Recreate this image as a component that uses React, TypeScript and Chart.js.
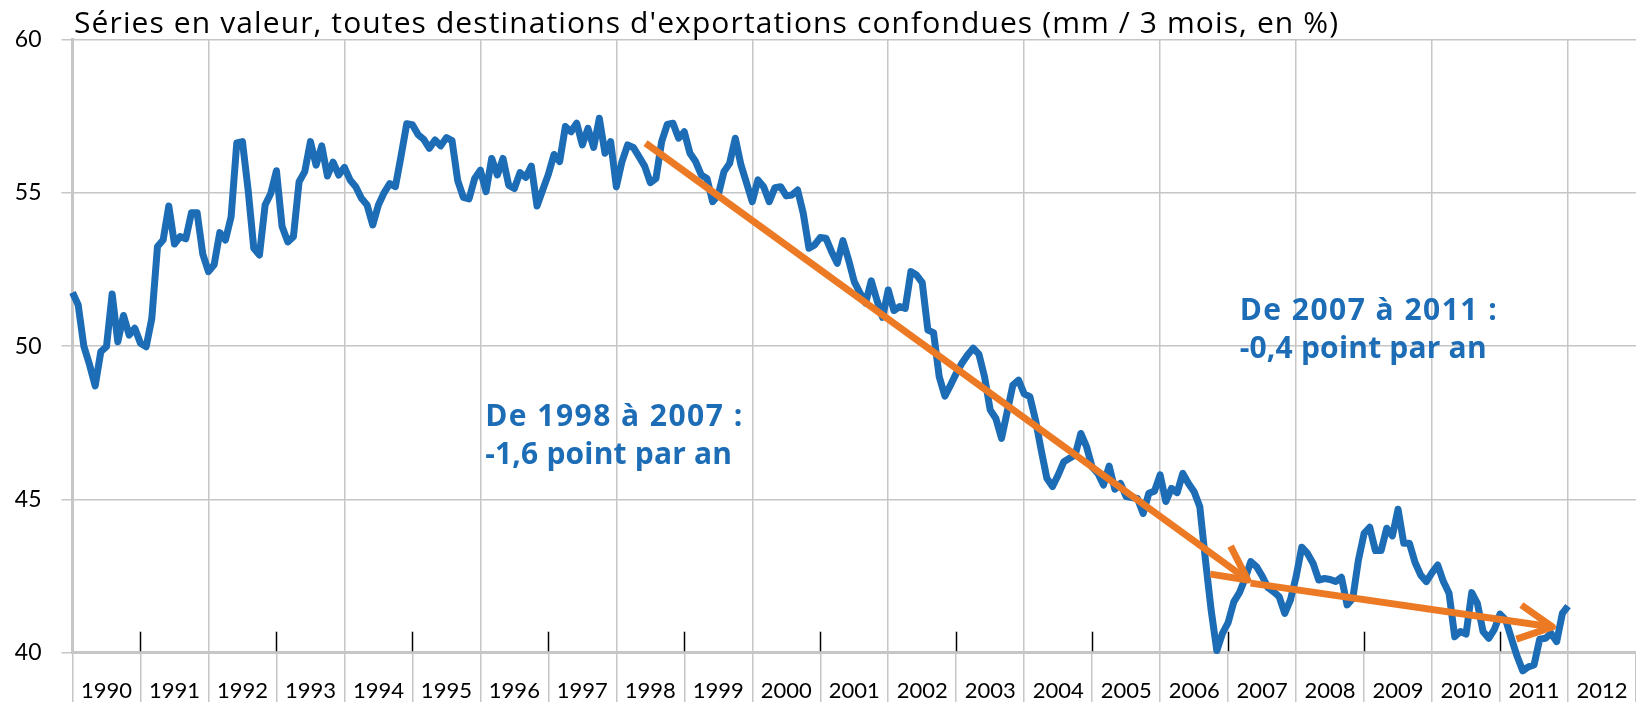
import React, { useEffect, useRef } from 'react';
import { Chart, registerables } from 'chart.js';

Chart.register(...registerables);

const TITLE = "Séries en valeur, toutes destinations d'exportations confondues (mm / 3 mois, en %)";
const START_YEAR = 1990;
const END_YEAR = 2013;
const YEAR_LABELS = ['1990', '1991', '1992', '1993', '1994', '1995', '1996', '1997', '1998', '1999', '2000', '2001', '2002', '2003', '2004', '2005', '2006', '2007', '2008', '2009', '2010', '2011', '2012'];
const Y_MIN = 40;
const Y_MAX = 60;
const Y_STEP = 5;

// Monthly values, Jan 1990 - Dec 1996
const SHARE_1990_1996 = [
  51.75, 51.35, 50.0, 49.4, 48.7, 49.82, 49.98, 51.7, 50.14, 51.0, 50.36, 50.58,
  50.09, 49.98, 50.9, 53.25, 53.46, 54.57, 53.33, 53.57, 53.5, 54.35, 54.35, 53.0,
  52.43, 52.65, 53.7, 53.46, 54.22, 56.63, 56.67, 55.1, 53.19, 52.97, 54.6, 54.98,
  55.72, 53.9, 53.4, 53.57, 55.36, 55.69, 56.67, 55.9, 56.53, 55.55, 56.0, 55.58,
  55.83, 55.42, 55.2, 54.82, 54.6, 53.95, 54.6, 55.0, 55.3, 55.2, 56.2, 57.25,
  57.22, 56.9, 56.74, 56.45, 56.72, 56.53, 56.8, 56.7, 55.4, 54.85, 54.8, 55.47,
  55.74, 55.04, 56.12, 55.58, 56.12, 55.25, 55.14, 55.66, 55.5, 55.87, 54.57, 55.09,
];
// Jan 1997 - Dec 2003
const SHARE_1997_2003 = [
  55.6, 56.25, 56.02, 57.16, 56.99, 57.27, 56.56, 57.1, 56.48, 57.43, 56.29, 56.67,
  55.2, 56.02, 56.56, 56.48, 56.18, 55.87, 55.33, 55.47, 56.67, 57.23, 57.27, 56.78,
  56.99, 56.29, 56.02, 55.58, 55.47, 54.71, 54.93, 55.69, 55.96, 56.78, 55.91, 55.31,
  54.71, 55.42, 55.2, 54.71, 55.17, 55.2, 54.9, 54.93, 55.09, 54.33, 53.19, 53.3,
  53.54, 53.52, 53.08, 52.7, 53.44, 52.81, 52.1, 51.74, 51.4, 52.13, 51.5, 50.94,
  51.83, 51.16, 51.29, 51.23, 52.43, 52.32, 52.07, 50.52, 50.44, 49.0, 48.37, 48.73,
  49.11, 49.44, 49.71, 49.93, 49.74, 49.0, 47.92, 47.64, 46.99, 47.86, 48.73, 48.89,
];
// Jan 2004 - Jan 2012
const SHARE_2004_2011 = [
  48.44, 48.35, 47.59, 46.61, 45.69, 45.42, 45.8, 46.23, 46.34, 46.45, 47.15, 46.72,
  46.05, 45.85, 45.47, 46.09, 45.33, 45.52, 45.09, 45.06, 45.03, 44.54, 45.2, 45.27,
  45.8, 44.93, 45.36, 45.22, 45.85, 45.52, 45.25, 44.76, 43.02, 41.39, 40.07, 40.63,
  40.98, 41.66, 41.96, 42.42, 42.97, 42.81, 42.5, 42.13, 41.99, 41.83, 41.28, 41.72,
  42.48, 43.44, 43.24, 42.91, 42.37, 42.42, 42.39, 42.32, 42.46, 41.56, 41.77, 43.02,
  43.89, 44.09, 43.33, 43.33, 44.06, 43.81, 44.68, 43.57, 43.57, 42.94, 42.53, 42.32,
  42.61, 42.86, 42.32, 41.94, 40.52, 40.69, 40.61, 41.96, 41.61, 40.69, 40.47, 40.76,
  41.26, 41.07, 40.47, 39.89, 39.41, 39.54, 39.6, 40.44, 40.47, 40.63, 40.36, 41.28,
  41.52,
];

// Trend arrows (year, value)
const TREND_1998_2007_X = [1998.43, 2007.29];
const TREND_1998_2007_Y = [56.62, 42.37];
const TREND_2007_2011_X = [2007.33, 2011.77];
const TREND_2007_2011_Y = [42.27, 40.84];

const NOTE_1 = ['De 1998 à 2007 :', '-1,6 point par an'];
const NOTE_2 = ['De 2007 à 2011 :', '-0,4 point par an'];
const NOTE_1_AT = { x: 1996.07, y: 47.39 };
const NOTE_2_AT = { x: 2007.17, y: 50.85 };

const BLUE = '#1c6cb6';
const ORANGE = '#ec7a25';
const GRID = '#c6c6c6';
const AXIS_FONT = 'Lato, "Noto Sans", sans-serif';
const TEXT_FONT = '"Open Sans", "Noto Sans", sans-serif';

// draw text adjusted (via letter spacing) to a target width
function fitText(ctx: any, text: string, x: number, y: number, width: number) {
  const c = ctx as any;
  c.letterSpacing = '0px';
  const w = ctx.measureText(text).width;
  const sp = (width - w) / Math.max(1, text.length - 1);
  c.letterSpacing = `${sp.toFixed(2)}px`;
  ctx.fillText(text, x, y);
  c.letterSpacing = '0px';
}

const overlay = {
  id: 'overlay',
  beforeDatasetsDraw(chart: any) {
    const { ctx, chartArea, scales } = chart;
    ctx.save();
    ctx.strokeStyle = '#000';
    ctx.lineWidth = 1.5;
    for (let yr = START_YEAR + 1; yr < END_YEAR; yr += 2) {
      const px = Math.round(scales.x.getPixelForValue(yr)) + 0.5;
      ctx.beginPath();
      ctx.moveTo(px, chartArea.bottom - 1.5);
      ctx.lineTo(px, chartArea.bottom - 21);
      ctx.stroke();
    }
    ctx.restore();
  },
  afterDatasetsDraw(chart: any) {
    const { ctx } = chart;
    ctx.save();
    chart.data.datasets.forEach((ds: any, di: number) => {
      if (!ds.isArrow) return;
      const pts = chart.getDatasetMeta(di).data;
      const a = pts[pts.length - 2];
      const b = pts[pts.length - 1];
      const ang = Math.atan2(b.y - a.y, b.x - a.x);
      const th = (27 * Math.PI) / 180;
      const L = 38;
      ctx.strokeStyle = ds.borderColor;
      ctx.lineWidth = 7;
      ctx.lineCap = 'butt';
      ctx.lineJoin = 'round';
      ctx.beginPath();
      ctx.moveTo(b.x + L * Math.cos(ang + Math.PI - th), b.y + L * Math.sin(ang + Math.PI - th));
      ctx.lineTo(b.x, b.y);
      ctx.lineTo(b.x + L * Math.cos(ang + Math.PI + th), b.y + L * Math.sin(ang + Math.PI + th));
      ctx.stroke();
    });
    ctx.restore();
  },
  afterDraw(chart: any) {
    const { ctx, chartArea, scales } = chart;
    ctx.save();
    ctx.fillStyle = '#000';
    ctx.font = `30px ${TEXT_FONT}`;
    ctx.textAlign = 'left';
    ctx.textBaseline = 'alphabetic';
    fitText(ctx, TITLE, chartArea.left + 1.5, 33, 1264);

    ctx.fillStyle = BLUE;
    ctx.font = `bold 30px ${TEXT_FONT}`;
    const notes: [string[], { x: number; y: number }][] = [[NOTE_1, NOTE_1_AT], [NOTE_2, NOTE_2_AT]];
    const widths = [257, 247];
    notes.forEach(([lines, at]) => {
      const px = scales.x.getPixelForValue(at.x);
      const py = scales.y.getPixelForValue(at.y);
      lines.forEach((t, k) => fitText(ctx, t, px, py + k * 38, widths[k]));
    });
    ctx.restore();
  },
};

export default function App() {
  const ref = useRef<HTMLCanvasElement | null>(null);

  useEffect(() => {
    if (!ref.current) return;
    const values = [...SHARE_1990_1996, ...SHARE_1997_2003, ...SHARE_2004_2011];
    const series = values.map((v, i) => ({ x: START_YEAR + i / 12, y: v }));
    const arrow1 = TREND_1998_2007_X.map((x, i) => ({ x, y: TREND_1998_2007_Y[i] }));
    const arrow2 = TREND_2007_2011_X.map((x, i) => ({ x, y: TREND_2007_2011_Y[i] }));

    const chart = new Chart(ref.current, {
      type: 'line',
      data: {
        datasets: [
          { data: arrow1, borderColor: ORANGE, borderWidth: 7, pointRadius: 0, clip: false as any, order: 1, isArrow: true, borderCapStyle: 'butt' } as any,
          { data: arrow2, borderColor: ORANGE, borderWidth: 7, pointRadius: 0, clip: false as any, order: 1, isArrow: true, borderCapStyle: 'butt' } as any,
          { data: series, borderColor: BLUE, borderWidth: 7, pointRadius: 0, tension: 0, clip: false as any, order: 2, borderJoinStyle: 'round' } as any,
        ],
      },
      options: {
        responsive: false,
        maintainAspectRatio: false,
        devicePixelRatio: 1,
        animation: false,
        events: [],
        layout: { padding: { top: 39.5, left: 0, right: 0, bottom: 0 }, autoPadding: false } as any,
        plugins: { legend: { display: false }, tooltip: { enabled: false }, title: { display: false } },
        scales: {
          x: {
            type: 'linear',
            min: START_YEAR,
            max: END_YEAR,
            offset: false,
            afterFit: (s: any) => { s.height = 49.3; },
            ticks: {
              stepSize: 1,
              autoSkip: false,
              maxRotation: 0,
              minRotation: 0,
              labelOffset: 34,
              padding: -25,
              color: '#000',
              font: { family: AXIS_FONT, size: 22 },
              callback: (v: any) => YEAR_LABELS[Math.round(Number(v)) - START_YEAR] ?? '',
            },
            grid: {
              color: (c: any) => (c.tick && Math.round(c.tick.value) % 2 === 0 ? GRID : 'rgba(0,0,0,0)'),
              tickColor: GRID,
              lineWidth: 1.5,
              tickLength: 50,
              drawTicks: true,
            },
            border: { display: true, color: GRID, width: 3 },
          },
          y: {
            type: 'linear',
            min: Y_MIN,
            max: Y_MAX,
            afterFit: (s: any) => { s.width = 72.5; },
            ticks: {
              stepSize: Y_STEP,
              padding: 20,
              color: '#000',
              font: { family: AXIS_FONT, size: 23 },
            },
            grid: { color: GRID, lineWidth: 1.5, tickLength: 11, tickColor: GRID },
            border: { display: true, color: GRID, width: 3 },
          },
        },
      },
      plugins: [overlay],
    });
    return () => chart.destroy();
  }, []);

  return (
    <div style={{ position: 'fixed', left: 0, top: 0, width: 1636, height: 702, background: '#fff' }}>
      <canvas ref={ref} width={1636} height={702} style={{ display: 'block' }} />
    </div>
  );
}
